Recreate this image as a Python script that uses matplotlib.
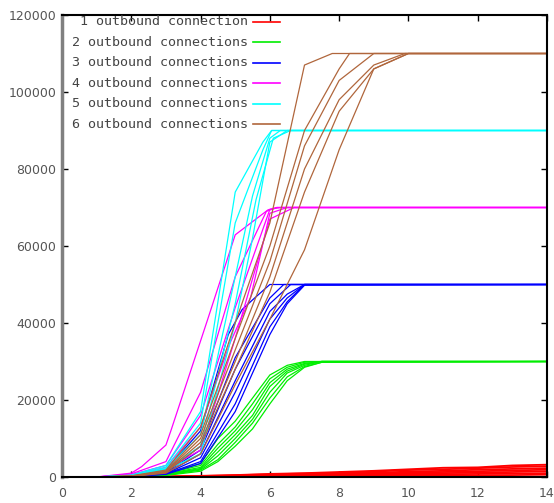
import matplotlib
matplotlib.use("Agg")
import matplotlib.pyplot as plt

# ---------------- data ----------------
series_labels = ["1 outbound connection", "2 outbound connections", "3 outbound connections",
                 "4 outbound connections", "5 outbound connections", "6 outbound connections"]
series_colors = ["#ff0000", "#00ee00", "#0000ff", "#ff00ff", "#00ffff", "#b0663c"]

x_ticks = [0, 2, 4, 6, 8, 10, 12, 14]
y_ticks = [0, 20000, 40000, 60000, 80000, 100000, 120000]

# 1 outbound connection (red) - common time axis
red_x = [0, 2, 3, 4, 5, 6, 7, 8, 9, 10, 11, 12, 13, 14]
red_runs = [
    [0, 0, 100, 300, 500, 800, 1000, 1300, 1600, 2000, 2400, 2500, 3000, 3200],
    [0, 0, 80, 250, 450, 700, 900, 1100, 1400, 1800, 2000, 2300, 2600, 2800],
    [0, 0, 50, 200, 350, 550, 700, 900, 1100, 1400, 1600, 1900, 2100, 2300],
    [0, 0, 50, 150, 300, 450, 600, 750, 900, 1100, 1300, 1500, 1700, 1900],
    [0, 0, 30, 100, 200, 350, 450, 550, 700, 850, 1000, 1150, 1300, 1500],
    [0, 0, 20, 80, 150, 250, 330, 420, 500, 600, 700, 800, 900, 1000],
    [0, 0, 10, 50, 100, 150, 200, 250, 300, 350, 400, 450, 500, 600],
]

# 2 outbound connections (green) - common time axis
green_x = [0, 1, 2, 3, 4, 4.5, 5, 5.5, 6, 6.5, 7, 7.5, 14]
green_runs = [
    [0, 0, 200, 1000, 3500, 10000, 14500, 20500, 26500, 29000, 30000, 30000, 30000],
    [0, 0, 150, 900, 3000, 8500, 13000, 19000, 25500, 28500, 29800, 30000, 30000],
    [0, 0, 100, 800, 2500, 7500, 12000, 17500, 24500, 28000, 29500, 30000, 30000],
    [0, 0, 100, 700, 2200, 6500, 11000, 16000, 23500, 27500, 29300, 30000, 30000],
    [0, 0, 80, 600, 2000, 5500, 10000, 15000, 22000, 27000, 29000, 30000, 30000],
    [0, 0, 50, 500, 1800, 4500, 9000, 14000, 20500, 26000, 28700, 29800, 30000],
    [0, 0, 50, 400, 1500, 4000, 8000, 12500, 19000, 25000, 28500, 29800, 30000],
]

# 3 outbound connections (blue)
blue_runs = [
    ([0, 1, 2, 3, 4, 4.8, 5.2, 5.5, 6.0, 14], [0, 0, 300, 1800, 12000, 37000, 43500, 46000, 50000, 50000]),
    ([0, 1, 2, 3, 4, 5, 6, 6.4, 14], [0, 0, 250, 1300, 8000, 31000, 46500, 50000, 50000]),
    ([0, 1, 2, 3, 4, 5, 6, 6.6, 14], [0, 0, 200, 1200, 7000, 28000, 45000, 50000, 50000]),
    ([0, 1, 2, 3, 4, 5, 6, 6.5, 7, 14], [0, 0, 200, 1000, 6000, 25000, 43000, 47500, 50000, 50000]),
    ([0, 1, 2, 3, 4, 5, 6, 6.5, 7, 14], [0, 0, 150, 900, 5000, 22000, 41000, 46500, 50000, 50000]),
    ([0, 1, 2, 3, 4, 5, 6, 6.5, 7, 14], [0, 0, 100, 800, 4000, 19000, 39000, 45500, 50000, 50000]),
    ([0, 1, 2, 3, 4, 5, 6, 6.5, 7, 14], [0, 0, 100, 700, 3500, 17000, 37000, 45000, 49800, 50000]),
]

# 4 outbound connections (magenta)
magenta_runs = [
    ([0, 1, 2, 2.3, 3, 3.15, 4.2, 5.0, 5.95, 6.2, 14], [0, 0, 1000, 2700, 8300, 12200, 40800, 62900, 69400, 70000, 70000]),
    ([0, 1, 2, 3, 4, 5, 5.9, 6.2, 14], [0, 0, 800, 4000, 22000, 52000, 69000, 70000, 70000]),
    ([0, 1, 2, 3, 4, 5, 6, 6.3, 14], [0, 0, 600, 3000, 16000, 44000, 69500, 70000, 70000]),
    ([0, 1, 2, 3, 4, 4.85, 5.45, 6.0, 6.5, 14], [0, 0, 500, 2500, 13000, 34800, 46800, 68500, 70000, 70000]),
    ([0, 1, 2, 3, 4, 5, 6, 6.7, 14], [0, 0, 400, 2000, 7000, 36000, 67000, 70000, 70000]),
]

# 5 outbound connections (cyan)
cyan_runs = [
    ([0, 1, 2, 3, 4, 5, 5.8, 6.05, 14], [0, 0, 500, 3000, 17000, 74000, 87000, 90000, 90000]),
    ([0, 1, 2, 3, 4, 5, 5.8, 6.05, 14], [0, 0, 400, 2500, 14000, 66000, 85000, 90000, 90000]),
    ([0, 1, 2, 3, 4, 5, 5.5, 6.0, 6.3, 14], [0, 0, 300, 2200, 11000, 52000, 73000, 88000, 90000, 90000]),
    ([0, 1, 2, 3, 4, 5, 5.6, 6.1, 6.6, 14], [0, 0, 300, 2000, 8000, 45000, 72000, 88000, 90000, 90000]),
    ([0, 1, 2, 3, 4, 5, 5.5, 6.0, 6.5, 14], [0, 0, 200, 1800, 6000, 40000, 62000, 87000, 90000, 90000]),
]

# 6 outbound connections (brown)
brown_runs = [
    ([0, 1, 2, 3, 4, 5, 6, 7, 7.8, 14], [0, 0, 300, 1800, 13000, 40000, 66000, 107000, 110000, 110000]),
    ([0, 1, 2, 3, 4, 5, 6, 7, 8, 8.3, 14], [0, 0, 250, 1500, 11000, 36000, 60000, 90000, 106000, 110000, 110000]),
    ([0, 1, 2, 3, 4, 5, 6, 7, 8, 9, 14], [0, 0, 200, 1400, 10000, 33000, 56000, 86000, 103000, 110000, 110000]),
    ([0, 1, 2, 3, 4, 5, 6, 7, 8, 9, 9.9, 14], [0, 0, 200, 1300, 9000, 30000, 52000, 80000, 98000, 107000, 110000, 110000]),
    ([0, 1, 2, 3, 4, 5, 6, 7, 8, 9, 10, 14], [0, 0, 150, 1200, 8000, 28000, 48000, 74000, 95000, 106000, 110000, 110000]),
    ([0, 1, 2, 3, 4, 5, 6, 7, 8, 9, 10, 14], [0, 0, 150, 1000, 6000, 24000, 41000, 59000, 85000, 106000, 110000, 110000]),
]

# ---------------- figure ----------------
fig = plt.figure(figsize=(5.54, 5.03), dpi=100)
ax = fig.add_axes([62 / 554, 26 / 503, 485 / 554, 462 / 503])

lw = 0.9
for ys in red_runs:
    ax.plot(red_x, ys, color=series_colors[0], lw=1.3)
for ys in green_runs:
    ax.plot(green_x, ys, color=series_colors[1], lw=lw)
for group, col in ((blue_runs, series_colors[2]), (magenta_runs, series_colors[3]),
                   (cyan_runs, series_colors[4]), (brown_runs, series_colors[5])):
    for xs, ys in group:
        ax.plot(xs, ys, color=col, lw=lw)

ax.set_xlim(0, 14)
ax.set_ylim(0, 120000)
ax.set_xticks(x_ticks)
ax.set_xticklabels([str(v) for v in x_ticks])
ax.set_yticks(y_ticks)
ax.set_yticklabels([str(v) for v in y_ticks])

ax.tick_params(direction="in", length=4, width=1, top=True, right=True,
               labelsize=9, labelcolor="#555555", color="black")
ax.tick_params(axis="x", pad=7)
ax.tick_params(axis="y", pad=4)

for s in ("top", "right", "bottom"):
    ax.spines[s].set_color("black")
    ax.spines[s].set_linewidth(1.5)
ax.spines["left"].set_color("#808080")
ax.spines["left"].set_linewidth(2.5)

# gnuplot-style key: right-justified text followed by sample line
key_text_x = 0.3835
key_line_x = (0.394, 0.449)
key_top = 0.985
key_step = 0.0444
for i, (lab, col) in enumerate(zip(series_labels, series_colors)):
    yy = key_top - i * key_step
    ax.text(key_text_x, yy, lab, transform=ax.transAxes, ha="right", va="center",
            family="DejaVu Sans Mono", fontsize=9.6, color="#444444")
    ax.plot(key_line_x, (yy, yy), transform=ax.transAxes, color=col, lw=1.2, clip_on=False)

fig.savefig("out.png", dpi=100)
